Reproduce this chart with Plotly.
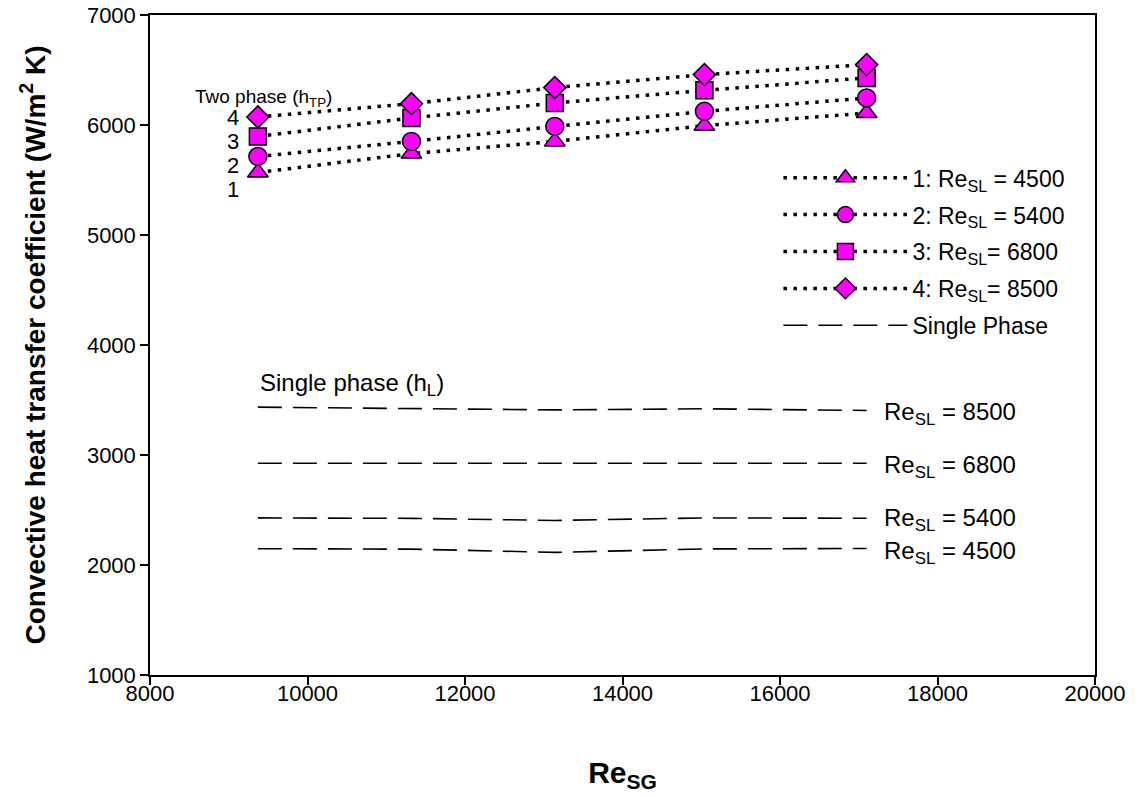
import plotly.graph_objects as go

FONT = "Liberation Sans, Arial, sans-serif"

# Superficial gas Reynolds numbers
re_sg = [9370, 11320, 13140, 15040, 17100]

# Two-phase heat transfer coefficients h_TP (W/m^2 K)
h_tp_4500 = [5568, 5740, 5851, 5994, 6109]
h_tp_5400 = [5714, 5851, 5987, 6124, 6246]
h_tp_6800 = [5896, 6064, 6200, 6315, 6428]
h_tp_8500 = [6073, 6194, 6340, 6458, 6549]

# Single-phase heat transfer coefficients h_L (W/m^2 K)
h_l_8500 = [3435, 3425, 3410, 3420, 3405]
h_l_6800 = [2925, 2925, 2922, 2925, 2925]
h_l_5400 = [2428, 2424, 2405, 2428, 2425]
h_l_4500 = [2148, 2144, 2115, 2146, 2150]

two_phase = [
    ("1: Re<sub>SL</sub> = 4500", h_tp_4500, "triangle-up", 18),
    ("2: Re<sub>SL</sub> = 5400", h_tp_5400, "circle", 18),
    ("3: Re<sub>SL</sub>= 6800", h_tp_6800, "square", 17),
    ("4: Re<sub>SL</sub>= 8500", h_tp_8500, "diamond", 17),
]
single_phase = [h_l_8500, h_l_6800, h_l_5400, h_l_4500]
single_labels = ["8500", "6800", "5400", "4500"]

fig = go.Figure()
for k, (name, ys, sym, sz) in enumerate(two_phase):
    fig.add_trace(go.Scatter(
        x=re_sg, y=ys, name=name, mode="lines+markers", legendgroup="g%d" % k,
        line=dict(color="black", width=3.5, dash="3.5px,6.5px"),
        marker=dict(symbol=sym, size=sz, color="#FF00FF",
                    line=dict(color="black", width=1.5)),
    ))
for i, ys in enumerate(single_phase):
    fig.add_trace(go.Scatter(
        x=re_sg, y=ys, name="Single Phase", mode="lines",
        legendgroup="single", showlegend=(i == 0),
        line=dict(color="black", width=1.6, dash="24px,11px"),
    ))

annotations = [
    dict(x=8545, y=6250, text="Two phase (h<sub>TP</sub>)", xanchor="left",
         yanchor="middle", font=dict(size=19)),
    dict(x=9370, y=3640, text="Single phase (h<sub>L</sub>)", xanchor="left",
         yanchor="middle", font=dict(size=24)),
]
for lab, yv in zip(["4", "3", "2", "1"], [6066, 5848, 5630, 5410]):
    annotations.append(dict(x=9053, y=yv, text=lab, xanchor="center",
                            yanchor="middle", font=dict(size=22)))
for lab, ys, off in zip(single_labels, single_phase, [30, 30, 15, 35]):
    annotations.append(dict(x=17290, y=ys[-1] - off, text="Re<sub>SL</sub> = " + lab,
                            xanchor="left", yanchor="middle", font=dict(size=24)))
for a in annotations:
    a.update(xref="x", yref="y", showarrow=False)
    a["font"].update(family=FONT, color="black")

fig.update_layout(
    width=1142, height=797,
    margin=dict(l=150, r=47, t=15, b=122, autoexpand=False),
    paper_bgcolor="white", plot_bgcolor="white",
    font=dict(family=FONT, color="black", size=20),
    annotations=annotations,
    legend=dict(x=0.665, y=0.786, xanchor="left", yanchor="top",
                bgcolor="rgba(0,0,0,0)", font=dict(size=23, family=FONT),
                itemwidth=124, tracegroupgap=4),
    showlegend=True,
)
fig.update_xaxes(
    range=[8000, 20000], tickvals=[8000, 10000, 12000, 14000, 16000, 18000, 20000],
    tickformat="d",
    ticks="outside", ticklen=8, tickwidth=1.5, tickcolor="black",
    showline=True, linecolor="black", linewidth=1.5, mirror=True,
    showgrid=False, zeroline=False, automargin=False,
    tickfont=dict(size=22, family=FONT), ticklabelstandoff=-10,
    title=dict(text="<b>Re<sub>SG</sub></b>", font=dict(size=30, family=FONT), standoff=57),
)
fig.update_yaxes(
    range=[1000, 7000], tickvals=[1000, 2000, 3000, 4000, 5000, 6000, 7000],
    tickformat="d",
    ticks="outside", ticklen=8, tickwidth=1.5, tickcolor="black",
    showline=True, linecolor="black", linewidth=1.5, mirror=True,
    showgrid=False, zeroline=False, automargin=False,
    tickfont=dict(size=22, family=FONT),
    title=dict(text="<b>Convective heat transfer coefficient (W/m<sup>2</sup> K)</b>",
               font=dict(size=28, family=FONT), standoff=33),
)

fig.write_html("out.html")
